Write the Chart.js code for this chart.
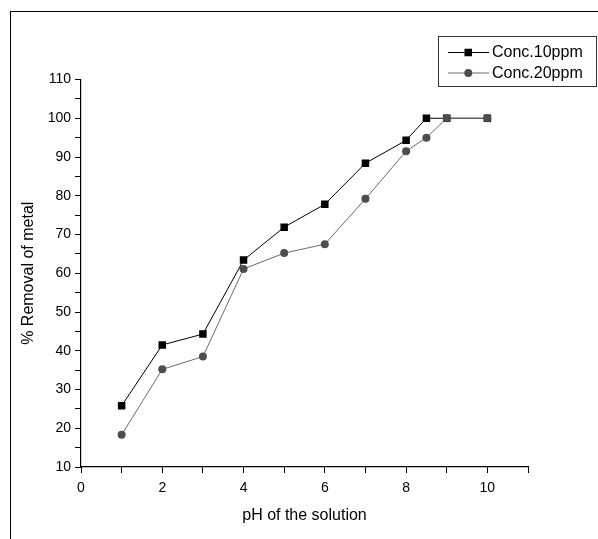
<!DOCTYPE html>
<html>
<head>
<meta charset="utf-8">
<title>% Removal of metal vs pH</title>
<script src="https://cdn.jsdelivr.net/npm/chart.js"></script>
<style>
  html, body { margin: 0; padding: 0; background: #fff; }
  #wrap { position: relative; width: 598px; height: 539px; }
  #frame {
    position: absolute; left: 10px; top: 11px; right: 0; bottom: 0;
    border-left: 1px solid #000; border-top: 1px solid #000;
    pointer-events: none;
  }
  canvas { position: absolute; left: 0; top: 0; }
</style>
</head>
<body>
<div id="wrap">
  <canvas id="removal-chart" width="598" height="539"></canvas>
  <div id="frame"></div>
</div>
<script>
// pH values and % removal
const phValues = [1, 2, 3, 4, 5, 6, 7, 8, 8.5, 9, 10];
const removal10ppm = [25.8, 41.5, 44.3, 63.4, 71.9, 77.8, 88.4, 94.3, 100, 100, 100];
const removal20ppm = [18.3, 35.2, 38.5, 61.1, 65.2, 67.5, 79.2, 91.5, 95.0, 100, 100];
const seriesLabels = ['Conc.10ppm', 'Conc.20ppm'];
const xTickLabels = [0, 2, 4, 6, 8, 10];
const yTickLabels = [10, 20, 30, 40, 50, 60, 70, 80, 90, 100, 110];

const FONT = '"Liberation Sans", Arial, Helvetica, sans-serif';
Chart.defaults.font.family = FONT;
Chart.defaults.color = '#000';

const toPoints = (xs, ys) => xs.map((x, i) => ({ x, y: ys[i] }));

// boxed legend drawn top-right, like the original figure
const boxedLegend = {
  id: 'boxedLegend',
  afterDraw(chart) {
    const ctx = chart.ctx;
    ctx.save();
    ctx.strokeStyle = '#333';
    ctx.lineWidth = 1;
    ctx.strokeRect(438.5, 36.5, 158, 50);
    chart.data.datasets.forEach((ds, i) => {
      const y = 52.5 + i * 20.5;
      ctx.strokeStyle = ds.borderColor;
      ctx.lineWidth = 1;
      ctx.beginPath();
      ctx.moveTo(448, y);
      ctx.lineTo(489, y);
      ctx.stroke();
      ctx.fillStyle = ds.pointBackgroundColor;
      if (ds.pointStyle === 'rect') {
        ctx.fillRect(464.5, y - 3.75, 7.5, 7.5);
      } else {
        ctx.beginPath();
        ctx.arc(468.3, y, 4, 0, Math.PI * 2);
        ctx.fill();
      }
      ctx.fillStyle = '#000';
      ctx.font = '16px ' + FONT;
      ctx.textBaseline = 'middle';
      ctx.fillText(ds.label, 492, y + 0.5);
    });
    ctx.restore();
  }
};

const ctx = document.getElementById('removal-chart').getContext('2d');
new Chart(ctx, {
  type: 'line',
  data: {
    datasets: [
      {
        label: seriesLabels[0],
        data: toPoints(phValues, removal10ppm),
        borderColor: '#000',
        backgroundColor: '#000',
        pointBackgroundColor: '#000',
        pointBorderColor: '#000',
        pointStyle: 'rect',
        pointRadius: 5.3,
        borderWidth: 1,
        pointBorderWidth: 0,
        order: 1
      },
      {
        label: seriesLabels[1],
        data: toPoints(phValues, removal20ppm),
        borderColor: '#6a6a6a',
        backgroundColor: '#4d4d4d',
        pointBackgroundColor: '#4d4d4d',
        pointBorderColor: '#4d4d4d',
        pointStyle: 'circle',
        pointRadius: 4,
        borderWidth: 1,
        pointBorderWidth: 0,
        order: 0
      }
    ]
  },
  options: {
    responsive: false,
    animation: false,
    devicePixelRatio: 1,
    layout: { padding: { top: 79.5, right: 70, bottom: 0, left: 0 } },
    plugins: {
      legend: { display: false },
      tooltip: { enabled: false }
    },
    scales: {
      x: {
        type: 'linear',
        min: 0,
        max: 11,
        afterFit: (scale) => { scale.height = 72; },
        border: { display: true, color: '#000', width: 1.2 },
        grid: { drawOnChartArea: false, tickLength: 6, color: '#000', tickColor: '#000' },
        ticks: {
          stepSize: 1,
          autoSkip: false,
          maxRotation: 0,
          padding: 7,
          font: { size: 14 },
          callback: (v) => xTickLabels.includes(v) ? String(v) : ''
        },
        title: {
          display: true,
          text: 'pH of the solution',
          font: { size: 16 },
          padding: { top: 0, bottom: 14 }
        }
      },
      y: {
        min: 10,
        max: 110,
        afterFit: (scale) => { scale.width = 81; },
        border: { display: true, color: '#000', width: 1.2 },
        grid: { drawOnChartArea: false, tickLength: 6, color: '#000', tickColor: '#000' },
        ticks: {
          stepSize: 5,
          autoSkip: false,
          padding: 4,
          font: { size: 14 },
          callback: (v) => yTickLabels.includes(v) ? String(v) : ''
        },
        title: {
          display: true,
          text: '% Removal of metal',
          font: { size: 16 },
          padding: { top: 19, bottom: 0 }
        }
      }
    }
  },
  plugins: [boxedLegend]
});
</script>
</body>
</html>
